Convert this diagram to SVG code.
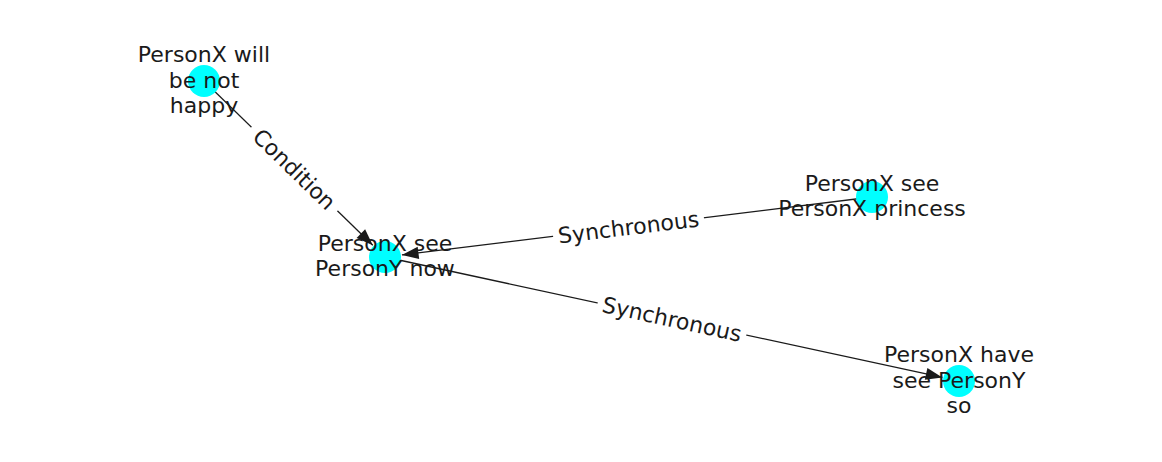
<svg xmlns="http://www.w3.org/2000/svg" width="1162" height="462" viewBox="0 0 1162 462">
<style>
.edge{stroke:#1a1a1a;stroke-width:1.3;fill:none}
.node{fill:#00ffff;stroke:none}
.lbl{font-family:"DejaVu Sans",sans-serif;font-size:22px;fill:#1a1a1a;text-anchor:middle}
.bg{fill:#ffffff;stroke:none}
</style>
<defs>
<marker id="arr" markerUnits="userSpaceOnUse" markerWidth="20" markerHeight="20" viewBox="-16 -8 18 16" refX="0" refY="0" orient="auto">
<path d="M0,0 L-15,-5.5 L-15,5.5 Z" fill="#1a1a1a"/>
</marker>
</defs>
<rect width="1162" height="462" fill="#ffffff"/>
<g id="connectors">
<line class="edge" x1="204" y1="81" x2="372.8" y2="245.2" marker-end="url(#arr)"/>
<line class="edge" x1="872" y1="197" x2="401.9" y2="254.9" marker-end="url(#arr)"/>
<line class="edge" x1="385" y1="257" x2="942.4" y2="377.4" marker-end="url(#arr)"/>
<g transform="translate(294.5,169) rotate(44.2)">
<rect class="bg" x="-60" y="-15" width="120" height="30"/>
<text class="lbl" x="0" y="8">Condition</text>
</g>
<g transform="translate(628.5,227) rotate(-7.0)">
<rect class="bg" x="-76" y="-15" width="152" height="30"/>
<text class="lbl" x="0" y="8">Synchronous</text>
</g>
<g transform="translate(672,319) rotate(12.2)">
<rect class="bg" x="-76" y="-15" width="152" height="30"/>
<text class="lbl" x="0" y="8">Synchronous</text>
</g>
</g>
<g id="n1">
<circle class="node" cx="204" cy="81" r="16"/>
<text class="lbl" x="204"><tspan x="204" y="62">PersonX will</tspan><tspan x="204" y="87.6">be not</tspan><tspan x="204" y="113.2">happy</tspan></text>
</g>
<g id="n2">
<circle class="node" cx="385" cy="257" r="16"/>
<text class="lbl"><tspan x="385" y="250.5">PersonX see</tspan><tspan x="385" y="276.1">PersonY now</tspan></text>
</g>
<g id="n3">
<circle class="node" cx="872" cy="197" r="16"/>
<text class="lbl"><tspan x="872" y="190.5">PersonX see</tspan><tspan x="872" y="216.1">PersonX princess</tspan></text>
</g>
<g id="n4">
<circle class="node" cx="959" cy="381" r="16"/>
<text class="lbl"><tspan x="959" y="361.9">PersonX have</tspan><tspan x="959" y="387.5">see PersonY</tspan><tspan x="959" y="413.1">so</tspan></text>
</g>
</svg>
